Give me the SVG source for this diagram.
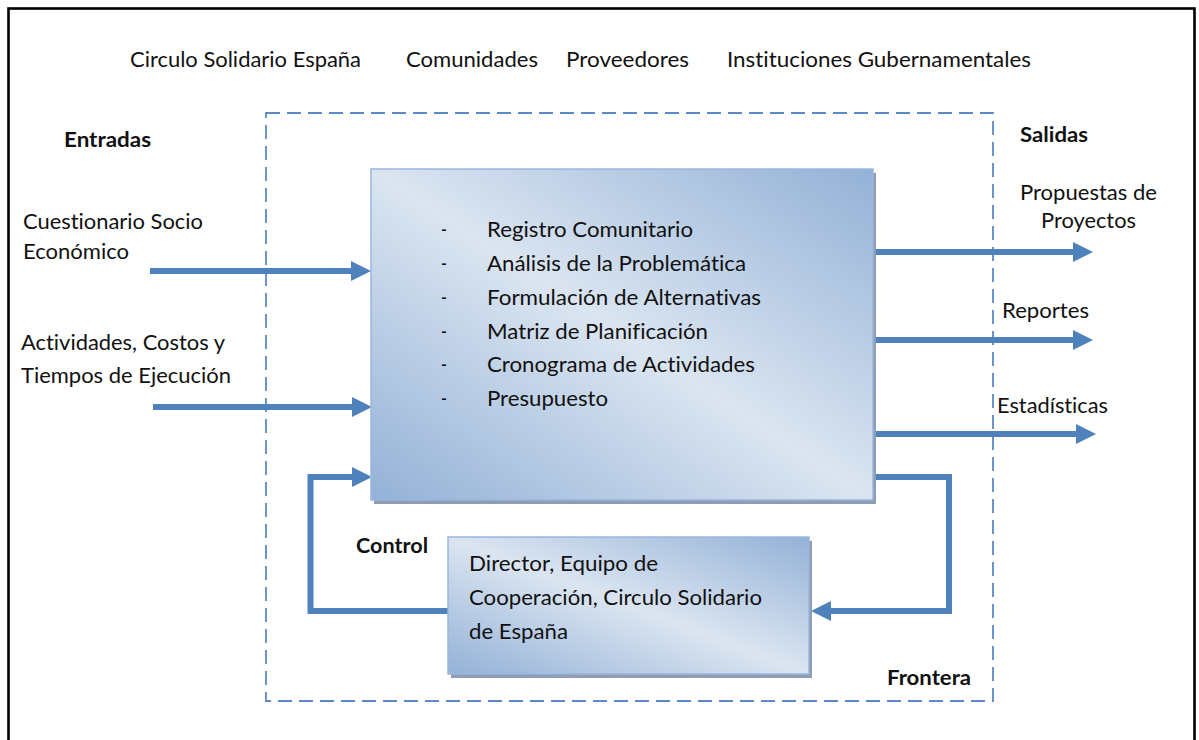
<svg xmlns="http://www.w3.org/2000/svg" width="1199" height="740" viewBox="0 0 1199 740">
  <style>
    text { font-family: Lato, "Open Sans", "Liberation Sans", sans-serif; font-size: 21px; fill: #111; font-variant-ligatures: none; font-feature-settings: "liga" 0, "dlig" 0; }
    .b { font-weight: bold; }
    .wire { fill: none; stroke: #4f81bd; stroke-width: 6; stroke-linejoin: miter; }
    .box { stroke: #9ab6dc; stroke-width: 1.5; }
    .shadow { fill: #8e9db3; }
  </style>
  <defs>
    <linearGradient id="fillBlue" x1="1" y1="0" x2="0" y2="1">
      <stop offset="0" stop-color="#93b1d7"/>
      <stop offset="0.5" stop-color="#dbe5f1"/>
      <stop offset="1" stop-color="#93b1d7"/>
    </linearGradient>
    <marker id="head" viewBox="0 0 20 20" refX="0" refY="10" markerWidth="20" markerHeight="20" markerUnits="userSpaceOnUse" orient="auto">
      <path d="M0,0 L20,10 L0,20 Z" fill="#4f81bd"/>
    </marker>
  </defs>

  <rect width="1199" height="740" fill="#ffffff"/>

  <!-- page frame -->
  <rect x="8.5" y="8.5" width="1186" height="760" fill="none" stroke="#000" stroke-width="2.6"/>

  <!-- system boundary -->
  <g id="frontera">
    <rect x="266" y="113" width="727" height="588" fill="none" stroke="#5b8bc7" stroke-width="1.8" stroke-dasharray="14 7"/>
    <text class="b" x="887" y="685" textLength="84" lengthAdjust="spacingAndGlyphs">Frontera</text>
  </g>

  <!-- environment -->
  <g id="entorno">
    <text x="130" y="67" textLength="231" lengthAdjust="spacingAndGlyphs">Circulo Solidario España</text>
    <text x="406" y="67" textLength="132" lengthAdjust="spacingAndGlyphs">Comunidades</text>
    <text x="566" y="67" textLength="123" lengthAdjust="spacingAndGlyphs">Proveedores</text>
    <text x="727" y="67" textLength="304" lengthAdjust="spacingAndGlyphs">Instituciones Gubernamentales</text>
  </g>

  <!-- inputs -->
  <g id="entradas">
    <text class="b" x="64" y="147" textLength="87" lengthAdjust="spacingAndGlyphs">Entradas</text>
    <text x="23" y="229" textLength="180" lengthAdjust="spacingAndGlyphs">Cuestionario Socio</text>
    <text x="23" y="259" textLength="106" lengthAdjust="spacingAndGlyphs">Económico</text>
    <text x="21" y="350" textLength="204" lengthAdjust="spacingAndGlyphs">Actividades, Costos y</text>
    <text x="21" y="383" textLength="210" lengthAdjust="spacingAndGlyphs">Tiempos de Ejecución</text>
  </g>

  <!-- outputs -->
  <g id="salidas">
    <text class="b" x="1020" y="142" textLength="68" lengthAdjust="spacingAndGlyphs">Salidas</text>
    <text x="1020" y="200" textLength="137" lengthAdjust="spacingAndGlyphs">Propuestas de</text>
    <text x="1041" y="228" textLength="95" lengthAdjust="spacingAndGlyphs">Proyectos</text>
    <text x="1002" y="318" textLength="87" lengthAdjust="spacingAndGlyphs">Reportes</text>
    <text x="997" y="413" textLength="111" lengthAdjust="spacingAndGlyphs">Estadísticas</text>
  </g>

  <!-- connectors -->
  <g id="conectores">
    <path class="wire" d="M150,271 H351" marker-end="url(#head)"/>
    <path class="wire" d="M153,407 H352" marker-end="url(#head)"/>
    <path class="wire" d="M873,252 H1073" marker-end="url(#head)"/>
    <path class="wire" d="M873,340 H1073" marker-end="url(#head)"/>
    <path class="wire" d="M873,434 H1076" marker-end="url(#head)"/>
    <path class="wire" d="M449,611 H310.5 V477 H352" marker-end="url(#head)"/>
    <path class="wire" d="M872,477 H949 V611 H831" marker-end="url(#head)"/>
  </g>

  <!-- process -->
  <g id="proceso">
    <rect class="shadow" x="374" y="173" width="502" height="331"/>
    <rect class="box" x="371" y="169" width="502" height="331" fill="url(#fillBlue)"/>
    <g>
      <text x="441" y="237" textLength="6" lengthAdjust="spacingAndGlyphs">-</text>
      <text x="441" y="271" textLength="6" lengthAdjust="spacingAndGlyphs">-</text>
      <text x="441" y="305" textLength="6" lengthAdjust="spacingAndGlyphs">-</text>
      <text x="441" y="339" textLength="6" lengthAdjust="spacingAndGlyphs">-</text>
      <text x="441" y="372" textLength="6" lengthAdjust="spacingAndGlyphs">-</text>
      <text x="441" y="406" textLength="6" lengthAdjust="spacingAndGlyphs">-</text>
      <text x="487" y="237" textLength="206" lengthAdjust="spacingAndGlyphs">Registro Comunitario</text>
      <text x="487" y="271" textLength="259" lengthAdjust="spacingAndGlyphs">Análisis de la Problemática</text>
      <text x="487" y="305" textLength="274" lengthAdjust="spacingAndGlyphs">Formulación de Alternativas</text>
      <text x="487" y="339" textLength="221" lengthAdjust="spacingAndGlyphs">Matriz de Planificación</text>
      <text x="487" y="372" textLength="268" lengthAdjust="spacingAndGlyphs">Cronograma de Actividades</text>
      <text x="487" y="406" textLength="121" lengthAdjust="spacingAndGlyphs">Presupuesto</text>
    </g>
  </g>

  <!-- control -->
  <g id="control">
    <text class="b" x="356" y="553" textLength="72" lengthAdjust="spacingAndGlyphs">Control</text>
    <rect class="shadow" x="451" y="541" width="361" height="137"/>
    <rect class="box" x="448" y="537" width="361" height="137" fill="url(#fillBlue)"/>
    <text x="469" y="571" textLength="189" lengthAdjust="spacingAndGlyphs">Director, Equipo de</text>
    <text x="469" y="605" textLength="293" lengthAdjust="spacingAndGlyphs">Cooperación, Circulo Solidario</text>
    <text x="469" y="639" textLength="99" lengthAdjust="spacingAndGlyphs">de España</text>
  </g>
</svg>
